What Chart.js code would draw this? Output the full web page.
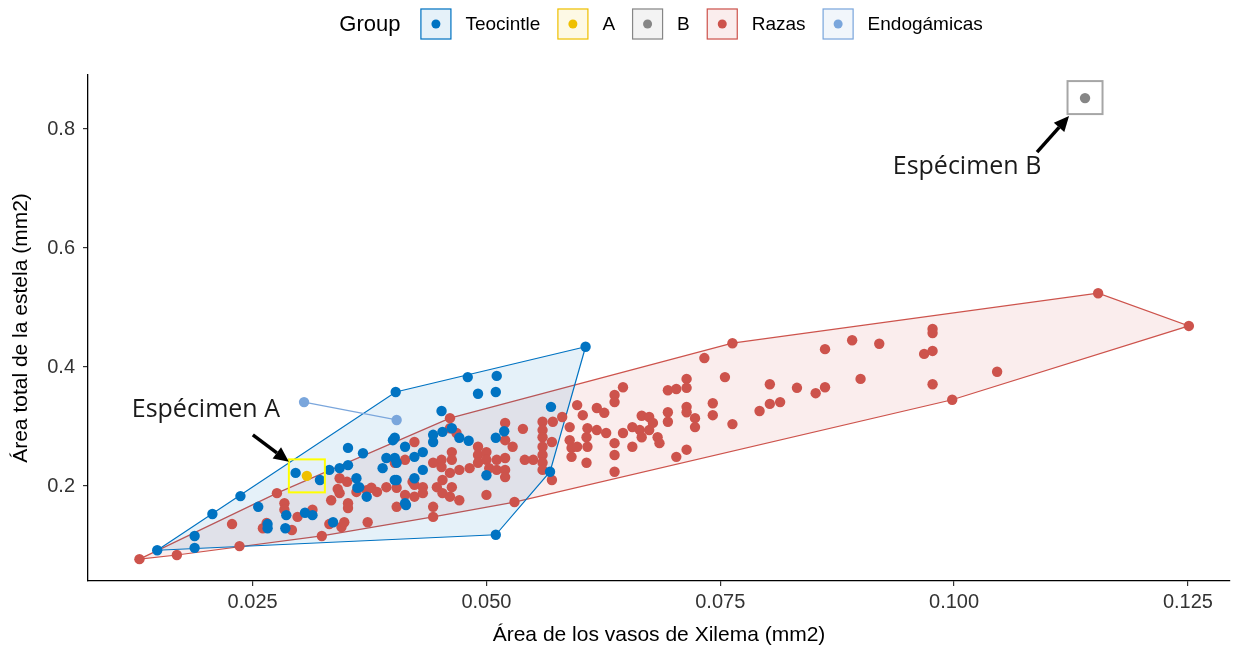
<!DOCTYPE html>
<html>
<head>
<meta charset="utf-8">
<script src="https://cdn.jsdelivr.net/npm/chart.js@4.4.0/dist/chart.umd.min.js"></script>
<style>
  html, body { margin: 0; padding: 0; background: #fff; }
</style>
</head>
<body>
<canvas id="chart" width="1244" height="654"></canvas>
<script>
// groups and palette (ggsci jco)
const groups = ['Teocintle', 'A', 'B', 'Razas', 'Endogámicas'];
const groupColors = ['#0073C2', '#EFC000', '#868686', '#CD534C', '#7AA6DC'];
const groupFills = ['rgba(0,115,194,0.1)', 'rgba(239,192,0,0.1)', 'rgba(134,134,134,0.1)', 'rgba(205,83,76,0.1)', 'rgba(122,166,220,0.1)'];

// [xilema area, estela area] in mm2
const teocintle = [
  [0.0148,0.092],[0.0188,0.096],[0.0188,0.116],[0.0207,0.153],[0.0237,0.183],[0.0256,0.165],
  [0.0266,0.136],[0.0266,0.129],[0.0286,0.151],[0.0285,0.129],[0.0306,0.155],[0.0314,0.151],
  [0.0296,0.222],[0.0322,0.210],[0.0332,0.227],[0.0343,0.230],[0.0352,0.235],[0.0352,0.264],
  [0.0361,0.213],[0.0362,0.197],[0.0372,0.182],[0.0336,0.139],[0.0368,0.255],[0.0393,0.247],
  [0.0400,0.277],[0.0402,0.210],[0.0389,0.230],[0.0403,0.358],[0.0480,0.383],[0.0511,0.385],
  [0.0491,0.355],[0.0510,0.358],[0.0452,0.326],[0.0402,0.281],[0.0413,0.266],[0.0423,0.249],
  [0.0432,0.257],[0.0443,0.274],[0.0443,0.286],[0.0453,0.291],[0.0463,0.297],[0.0402,0.247],
  [0.0432,0.227],[0.0423,0.213],[0.0404,0.210],[0.0414,0.168],[0.0471,0.281],[0.0481,0.276],
  [0.0510,0.281],[0.0519,0.292],[0.0500,0.218],[0.0569,0.333],[0.0568,0.224],[0.0510,0.118],
  [0.0606,0.434],[0.0404,0.239],[0.0413,0.171],[0.0364,0.198]
];

const razas = [
  [0.0129,0.077],[0.0169,0.084],[0.0228,0.136],[0.0236,0.099],[0.0261,0.129],[0.0265,0.138],
  [0.0276,0.188],[0.0284,0.171],[0.0284,0.160],[0.0292,0.126],[0.0298,0.148],[0.0314,0.160],
  [0.0324,0.116],[0.0332,0.136],[0.0334,0.176],[0.0343,0.188],[0.0343,0.213],[0.0351,0.207],
  [0.0345,0.131],[0.0348,0.139],[0.0341,0.195],[0.0352,0.171],[0.0352,0.163],[0.0361,0.190],
  [0.0372,0.193],[0.0373,0.139],[0.0377,0.197],[0.0383,0.190],[0.0393,0.198],[0.0404,0.165],
  [0.0402,0.239],[0.0404,0.197],[0.0413,0.244],[0.0413,0.185],[0.0421,0.207],[0.0423,0.274],
  [0.0423,0.202],[0.0423,0.182],[0.0432,0.198],[0.0432,0.188],[0.0443,0.239],[0.0443,0.165],
  [0.0443,0.148],[0.0447,0.198],[0.0452,0.244],[0.0452,0.232],[0.0453,0.210],[0.0453,0.188],
  [0.0461,0.314],[0.0461,0.297],[0.0461,0.222],[0.0461,0.182],[0.0463,0.257],[0.0463,0.244],
  [0.0463,0.198],[0.0468,0.289],[0.0471,0.227],[0.0471,0.176],[0.0482,0.230],[0.0491,0.266],
  [0.0491,0.252],[0.0491,0.239],[0.0500,0.257],[0.0500,0.244],[0.0500,0.185],[0.0503,0.230],
  [0.0511,0.244],[0.0511,0.227],[0.0520,0.306],[0.0520,0.277],[0.0520,0.247],[0.0520,0.227],
  [0.0520,0.215],[0.0528,0.266],[0.0530,0.173],[0.0539,0.296],[0.0541,0.244],[0.0550,0.244],
  [0.0560,0.308],[0.0560,0.294],[0.0560,0.282],[0.0560,0.266],[0.0560,0.252],[0.0560,0.239],
  [0.0560,0.227],[0.0570,0.274],[0.0570,0.210],[0.0571,0.308],[0.0581,0.316],[0.0589,0.299],
  [0.0589,0.277],[0.0591,0.264],[0.0591,0.249],[0.0597,0.336],[0.0597,0.266],[0.0603,0.319],
  [0.0607,0.282],[0.0607,0.239],[0.0608,0.297],[0.0608,0.266],[0.0618,0.331],[0.0618,0.294],
  [0.0626,0.323],[0.0628,0.289],[0.0637,0.353],[0.0637,0.341],[0.0637,0.272],[0.0637,0.252],
  [0.0637,0.224],[0.0646,0.366],[0.0646,0.289],[0.0656,0.299],[0.0656,0.266],[0.0664,0.294],
  [0.0666,0.318],[0.0666,0.282],[0.0674,0.316],[0.0674,0.294],[0.0678,0.306],[0.0683,0.282],
  [0.0685,0.272],[0.0694,0.361],[0.0694,0.324],[0.0694,0.308],[0.0703,0.363],[0.0703,0.249],
  [0.0714,0.380],[0.0714,0.365],[0.0714,0.333],[0.0714,0.324],[0.0714,0.261],[0.0723,0.314],
  [0.0723,0.299],[0.0733,0.415],[0.0742,0.339],[0.0742,0.319],[0.0755,0.383],[0.0763,0.440],
  [0.0763,0.304],[0.0792,0.326],[0.0803,0.371],[0.0803,0.338],[0.0814,0.341],[0.0832,0.365],
  [0.0852,0.356],[0.0862,0.366],[0.0862,0.430],[0.0891,0.445],[0.0900,0.380],[0.0920,0.439],
  [0.0968,0.422],[0.0977,0.464],[0.0977,0.457],[0.0977,0.427],[0.0977,0.371],[0.0998,0.345],
  [0.1046,0.392],[0.1154,0.524],[0.1251,0.469]
];

const endogamicas = [[0.0305,0.341],[0.0404,0.311]];
const specimenA = [[0.0308,0.217]];
const specimenB = [[0.1140,0.852]];

const xTicks = [0.025, 0.050, 0.075, 0.100, 0.125];
const yTicks = [0.2, 0.4, 0.6, 0.8];

const FONT = '"Liberation Sans", Arial, sans-serif';

function toPoints(arr) {
  return arr.map(p => ({x: p[0], y: p[1]}));
}

// convex hull (monotone chain), closed
function hull(arr) {
  const pts = toPoints(arr).sort((a, b) => a.x - b.x || a.y - b.y);
  if (pts.length < 3) return pts;
  const cross = (o, a, b) => (a.x - o.x) * (b.y - o.y) - (a.y - o.y) * (b.x - o.x);
  const lower = [], upper = [];
  for (const p of pts) {
    while (lower.length >= 2 && cross(lower[lower.length - 2], lower[lower.length - 1], p) <= 0) lower.pop();
    lower.push(p);
  }
  for (const p of pts.slice().reverse()) {
    while (upper.length >= 2 && cross(upper[upper.length - 2], upper[upper.length - 1], p) <= 0) upper.pop();
    upper.push(p);
  }
  lower.pop(); upper.pop();
  const h = lower.concat(upper);
  h.push(h[0]);
  return h;
}

function hullSet(arr, gi, order) {
  return {
    type: 'line', label: groups[gi] + ' hull', data: hull(arr), order: order,
    borderColor: groupColors[gi], backgroundColor: groupFills[gi], borderWidth: 1.2,
    fill: 'shape', pointRadius: 0, tension: 0
  };
}

function pointSet(arr, gi, order) {
  return {
    type: 'scatter', label: groups[gi], data: toPoints(arr), order: order,
    backgroundColor: groupColors[gi], borderWidth: 0, pointRadius: 5.2, pointHoverRadius: 5.2
  };
}

const legendPlugin = {
  id: 'groupLegend',
  afterDraw(chart) {
    const ctx = chart.ctx;
    const key = 31, keyGap = 14, itemGap = 17, titleGap = 20;
    ctx.save();
    ctx.textBaseline = 'middle';
    ctx.font = '22px ' + FONT;
    const titleW = ctx.measureText('Group').width;
    ctx.font = '19px ' + FONT;
    const widths = groups.map(g => ctx.measureText(g).width);
    let total = titleW + titleGap;
    widths.forEach((w, i) => { total += key + keyGap + w + (i < widths.length - 1 ? itemGap : 0); });
    const cy = 24;
    let x = (chart.chartArea.left + chart.chartArea.right) / 2 - total / 2 + 2;
    ctx.fillStyle = '#000';
    ctx.font = '22px ' + FONT;
    ctx.fillText('Group', x, cy + 1);
    x += titleW + titleGap;
    ctx.font = '19px ' + FONT;
    groups.forEach((g, i) => {
      ctx.fillStyle = groupFills[i];
      ctx.fillRect(x, cy - key / 2, key, key);
      ctx.strokeStyle = groupColors[i];
      ctx.lineWidth = 1.2;
      ctx.strokeRect(x + 0.5, cy - key / 2 + 0.5, key - 1, key - 1);
      ctx.fillStyle = groupColors[i];
      ctx.beginPath();
      ctx.arc(x + key / 2, cy, 4.5, 0, Math.PI * 2);
      ctx.fill();
      x += key + keyGap;
      ctx.fillStyle = '#000';
      ctx.fillText(g, x, cy + 1);
      x += widths[i] + itemGap;
    });
    ctx.restore();
  }
};

function arrow(ctx, x1, y1, x2, y2) {
  const a = Math.atan2(y2 - y1, x2 - x1);
  const len = 15, half = 7;
  const bx = x2 - len * Math.cos(a), by = y2 - len * Math.sin(a);
  ctx.beginPath();
  ctx.moveTo(x1, y1);
  ctx.lineTo(bx, by);
  ctx.stroke();
  ctx.beginPath();
  ctx.moveTo(x2, y2);
  ctx.lineTo(bx + half * Math.sin(a), by - half * Math.cos(a));
  ctx.lineTo(bx - half * Math.sin(a), by + half * Math.cos(a));
  ctx.closePath();
  ctx.fill();
}

const specimenPlugin = {
  id: 'specimens',
  afterDatasetsDraw(chart) {
    const {ctx, scales: {x, y}} = chart;
    const ax = x.getPixelForValue(specimenA[0][0]), ay = y.getPixelForValue(specimenA[0][1]);
    const bx = x.getPixelForValue(specimenB[0][0]), by = y.getPixelForValue(specimenB[0][1]);
    ctx.save();
    ctx.lineWidth = 2;
    ctx.strokeStyle = '#FFFF00';
    ctx.strokeRect(ax - 18, ay - 16.5, 36, 33);
    ctx.strokeStyle = '#A6A6A6';
    ctx.strokeRect(bx - 17.5, by - 17, 35, 33);
    ctx.strokeStyle = '#000';
    ctx.fillStyle = '#000';
    ctx.lineWidth = 3.5;
    arrow(ctx, ax - 54, ay - 41, ax - 18, ay - 14);
    arrow(ctx, bx - 48, by + 54, bx - 16, by + 18);
    ctx.fillStyle = '#1a1a1a';
    ctx.font = '25px "Open Sans", sans-serif';
    ctx.textAlign = 'center';
    ctx.textBaseline = 'middle';
    ctx.fillText('Espécimen A', ax - 101, ay - 66);
    ctx.fillText('Espécimen B', bx - 118, by + 69);
    ctx.restore();
  }
};

const config = {
  type: 'scatter',
  data: {
    datasets: [
      pointSet(specimenA, 1, 1),
      pointSet(specimenB, 2, 1),
      pointSet(endogamicas, 4, 1),
      pointSet(teocintle, 0, 2),
      pointSet(razas, 3, 3),
      hullSet(endogamicas, 4, 5),
      hullSet(teocintle, 0, 6),
      hullSet(razas, 3, 7)
    ]
  },
  options: {
    responsive: false,
    animation: false,
    layout: { padding: { top: 75, right: 14, left: 0, bottom: 0 } },
    plugins: {
      legend: { display: false },
      tooltip: { enabled: false }
    },
    scales: {
      x: {
        type: 'linear', min: 0.0074, max: 0.1295,
        afterBuildTicks: s => { s.ticks = xTicks.map(v => ({value: v})); },
        afterFit: s => { s.height = 73; },
        border: { display: true, color: '#000', width: 1.3 },
        grid: { drawOnChartArea: false, drawTicks: true, tickLength: 5, color: '#333', lineWidth: 1.2 },
        ticks: { color: '#333', font: { family: FONT, size: 20 }, padding: 4, maxRotation: 0, autoSkip: false,
                 callback: v => v.toFixed(3) },
        title: { display: true, text: 'Área de los vasos de Xilema (mm2)', color: '#000',
                 font: { family: FONT, size: 21 }, padding: { top: 0, bottom: 6 } }
      },
      y: {
        type: 'linear', min: 0.0403, max: 0.8908,
        afterBuildTicks: s => { s.ticks = yTicks.map(v => ({value: v})); },
        afterFit: s => { s.width = 88; },
        border: { display: true, color: '#000', width: 1.3 },
        grid: { drawOnChartArea: false, drawTicks: true, tickLength: 5, color: '#333', lineWidth: 1.2 },
        ticks: { color: '#333', font: { family: FONT, size: 20 }, padding: 8,
                 callback: v => v.toFixed(1) },
        title: { display: true, text: 'Área total de la estela (mm2)', color: '#000',
                 font: { family: FONT, size: 21 }, padding: { top: 9, bottom: 0 } }
      }
    }
  },
  plugins: [legendPlugin, specimenPlugin]
};

const chart = new Chart(document.getElementById('chart'), config);
</script>
</body>
</html>
